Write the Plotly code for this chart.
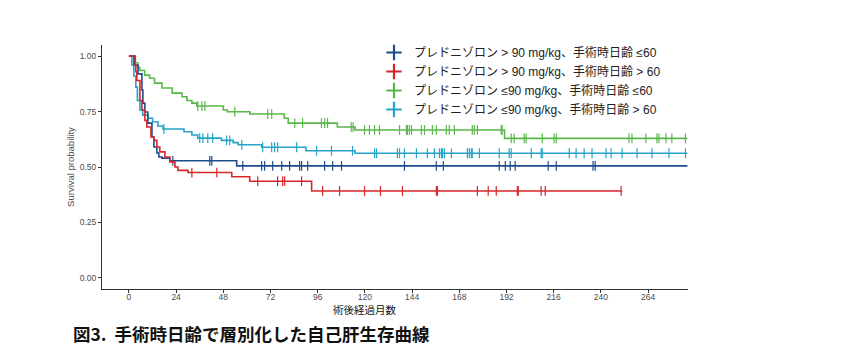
import plotly.graph_objects as go

# ---- data (months, survival probability) ----
x_ticks = [0, 24, 48, 72, 96, 120, 144, 168, 192, 216, 240, 264]
y_ticks = [0.0, 0.25, 0.50, 0.75, 1.00]
y_tick_labels = ["0.00", "0.25", "0.50", "0.75", "1.00"]

labels = [
    "プレドニゾロン > 90 mg/kg、手術時日齢 ≤60",
    "プレドニゾロン > 90 mg/kg、手術時日齢 > 60",
    "プレドニゾロン ≤90 mg/kg、手術時日齢 ≤60",
    "プレドニゾロン ≤90 mg/kg、手術時日齢 > 60",
]
colors = ["#1D4E89", "#D7262B", "#5BB74B", "#26A3C7"]

# group 1: > 90, <= 60 (navy)
navy_t = [0, 3, 4.6, 6.6, 7.1, 8.1, 9.6, 11.7, 12.7, 14.2, 15.2, 16.8, 20.8, 54.8, 284]
navy_s = [1.0, 0.96, 0.92, 0.847, 0.788, 0.748, 0.698, 0.635, 0.59, 0.563, 0.545, 0.54, 0.528, 0.505, 0.505]
navy_c = [22.3, 41.1, 42.1, 57.9, 67.5, 69, 73.1, 77.7, 81.7, 86.8, 87.8, 90.9, 99.5, 103.6,
          108.1, 140.1, 156.3, 159.9, 188.3, 191.4, 193.9, 196.4, 213.2, 217.3, 236, 237.1]

# group 2: > 90, > 60 (red)
red_t = [0, 2.5, 3.5, 4, 5.6, 6.6, 8.1, 9.1, 11.2, 12.7, 14.2, 15.7, 18.3, 20.8, 23.4, 24.9,
         30, 52.3, 61.4, 92.9, 250.8]
red_s = [1.0, 0.96, 0.93, 0.89, 0.80, 0.757, 0.71, 0.68, 0.635, 0.62, 0.59, 0.568, 0.545, 0.523,
         0.50, 0.485, 0.475, 0.456, 0.436, 0.392, 0.392]
red_c = [32, 44.7, 65.5, 75.6, 78.2, 79.2, 87.8, 98.5, 107.1, 119.8, 127.9, 139.1, 156.3, 156.9,
         177.2, 182.7, 186.8, 197.5, 198, 209.6, 211.7, 250.3]

# group 3: <= 90, <= 60 (green)
green_t = [0, 3.3, 4.5, 5.5, 8, 10.5, 13, 16.8, 22, 27, 29.5, 32, 34.5, 48, 50, 61.5, 79, 81,
           106, 115, 191, 284]
green_s = [1.0, 0.97, 0.95, 0.935, 0.914, 0.90, 0.878, 0.856, 0.833, 0.817, 0.80, 0.788, 0.775,
           0.757, 0.749, 0.739, 0.72, 0.698, 0.68, 0.667, 0.629, 0.629]
green_c = [35, 37.1, 38.6, 53.8, 70.6, 72.6, 84.3, 88.3, 97.9, 99.5, 101, 113, 114, 119.8, 122.3,
           124.9, 127.4, 137.6, 141.1, 141.6, 142.6, 143.7, 148.7, 150.3, 154.3, 156.3, 161.4,
           162.9, 165.5, 174.6, 175.6, 177.2, 189.3, 189.8, 194.4, 195.9, 201, 202, 210.2, 216.2,
           217.3, 254.3, 255.8, 262.9, 268.5, 269.5, 273.1, 276.1, 283]

# group 4: <= 90, > 60 (cyan)
cyan_t = [0, 1.5, 2.5, 3.5, 4.3, 5.6, 7, 9.6, 12, 14.7, 17.3, 28, 32, 35, 47, 53, 55.5, 67.5,
          90, 115, 284]
cyan_s = [1.0, 0.96, 0.91, 0.86, 0.80, 0.757, 0.734, 0.72, 0.704, 0.685, 0.671, 0.659, 0.644,
          0.63, 0.62, 0.61, 0.60, 0.589, 0.573, 0.562, 0.562]
cyan_c = [17.8, 36, 37.6, 40.1, 42.6, 49.7, 51.3, 57.4, 68, 72.6, 74.1, 75.6, 85.3, 95.4, 103,
          113.7, 124.9, 125.9, 136.5, 137.6, 140.1, 146.2, 151.8, 155.3, 157.9, 158.9, 159.4,
          160.4, 164, 172.1, 173.1, 174.1, 174.6, 178.2, 188.3, 193.4, 194.4, 204.6, 209.6,
          210.2, 223.9, 227.4, 231.5, 235.5, 242.6, 245.2, 250.8, 258.4, 266, 274.6, 283]

series = [
    (navy_t, navy_s, navy_c),
    (red_t, red_s, red_c),
    (green_t, green_s, green_c),
    (cyan_t, cyan_s, cyan_c),
]


def surv_at(ts, ss, t):
    v = ss[0]
    for ti, si in zip(ts, ss):
        if ti <= t:
            v = si
        else:
            break
    return v


fig = go.Figure()
# draw order: green, cyan, navy, red (so red/navy sit on top)
order = [2, 3, 0, 1]
for i in order:
    ts, ss, cs = series[i]
    fig.add_trace(go.Scatter(x=ts, y=ss, mode="lines", line=dict(color=colors[i], width=1.6, shape="hv"),
                             showlegend=False, hoverinfo="skip"))
    fig.add_trace(go.Scatter(x=cs, y=[surv_at(ts, ss, c) for c in cs], mode="markers",
                             marker=dict(symbol="line-ns", size=7, color=colors[i],
                                         line=dict(color=colors[i], width=1.2)),
                             showlegend=False, hoverinfo="skip"))

# legend entries
for i in range(4):
    fig.add_trace(go.Scatter(x=[None], y=[None], mode="markers", name=labels[i],
                             marker=dict(symbol="cross-thin", size=11, color=colors[i],
                                         line=dict(color=colors[i], width=2.2))))

# page body has an 8px margin, so the figure is 8px smaller and all positions shift by -8
OFF = 8
W, H = 850 - OFF, 358 - OFF
PL, PR, PT, PB = 102 - OFF, 688 - OFF, 45 - OFF, 289 - OFF
PW, PH = PR - PL, PB - PT

fig.update_layout(
    width=W, height=H,
    margin=dict(l=PL, r=W - PR, t=PT, b=H - PB, autoexpand=False),
    paper_bgcolor="white", plot_bgcolor="white",
    font=dict(family="Liberation Sans, Noto Sans CJK JP", color="#222222"),
    legend=dict(x=(374 - OFF - PL) / PW, y=(PB - (38 - OFF)) / PH, xanchor="left", yanchor="top",
                font=dict(size=12, family="Liberation Sans, Noto Sans CJK JP", color="#222222"),
                bgcolor="rgba(0,0,0,0)", itemwidth=30),
    xaxis=dict(range=[-13.7, 284.3], tickvals=x_ticks, ticktext=[str(v) for v in x_ticks],
               showgrid=False, zeroline=False, showline=True, linecolor="#333333", linewidth=1.2,
               ticks="outside", ticklen=3, tickcolor="#333333", ticklabelstandoff=-3,
               tickfont=dict(size=8.5, color="#4D4D4D", family="Liberation Sans")),
    yaxis=dict(range=[-0.05, 1.05], tickvals=y_ticks, ticktext=y_tick_labels,
               showgrid=False, zeroline=False, showline=True, linecolor="#333333", linewidth=1.2,
               ticks="outside", ticklen=3, tickcolor="#333333",
               tickfont=dict(size=8.5, color="#4D4D4D", family="Liberation Sans"),
               title=dict(text="Survival probability", standoff=3,
                          font=dict(size=9.5, color="#4D4D4D", family="Liberation Sans"))),
)

fig.add_annotation(text="術後経過月数", xref="paper", yref="paper", x=(365 - OFF - PL) / PW,
                   y=-(309 - OFF - PB) / PH, xanchor="center", yanchor="middle", showarrow=False,
                   font=dict(size=10.5, color="#111111", family="Noto Sans CJK JP"))
fig.add_annotation(text="<b>図3.  手術時日齢で層別化した自己肝生存曲線</b>", xref="paper", yref="paper",
                   x=(71 - OFF - PL) / PW, y=-(333 - OFF - PB) / PH, xanchor="left", yanchor="middle",
                   showarrow=False,
                   font=dict(size=17.5, color="#111111", family="Noto Sans CJK JP"))

fig.write_html("out.html")
